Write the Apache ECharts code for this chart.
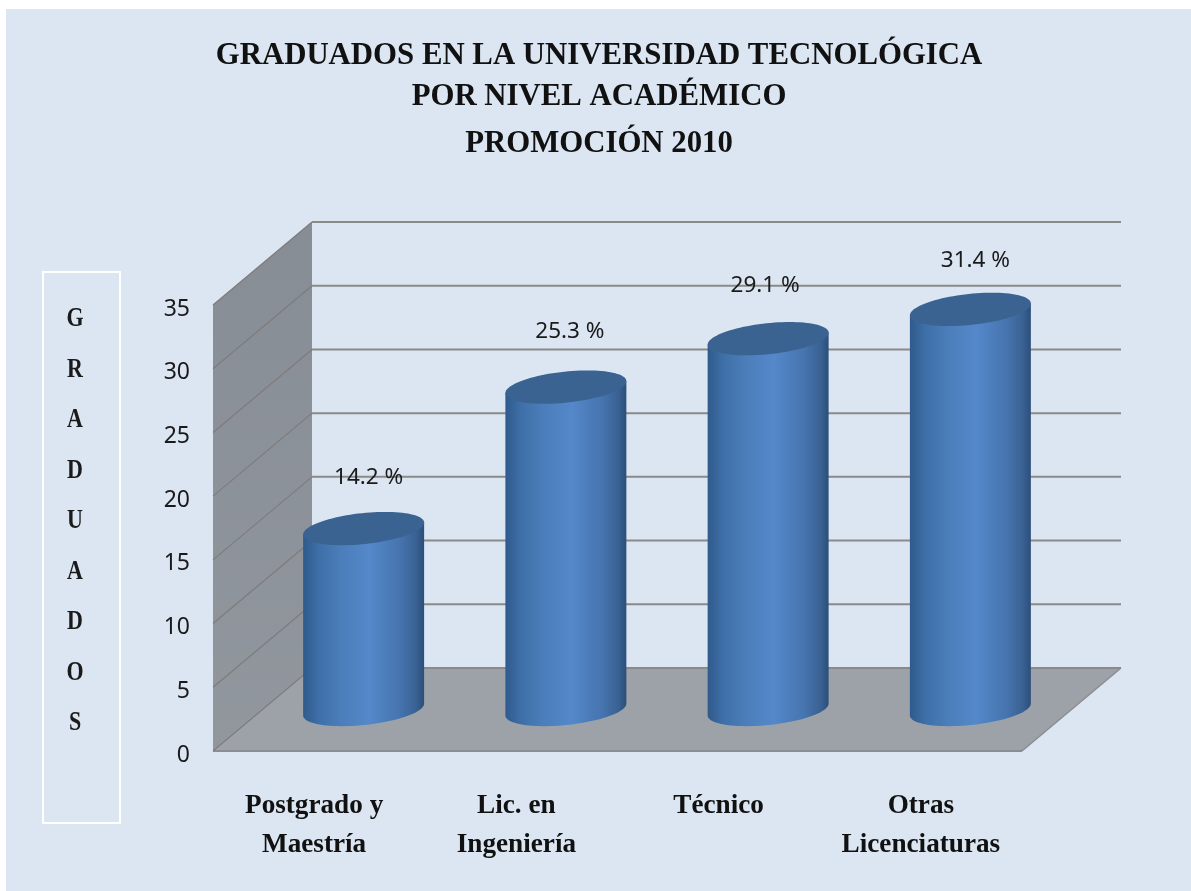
<!DOCTYPE html>
<html><head><meta charset="utf-8">
<style>html,body{margin:0;padding:0;background:#fff}#c{width:1191px;height:891px}</style>
<script src="https://cdn.jsdelivr.net/npm/echarts@6/dist/echarts.min.js"></script>
</head><body><div id="c"></div>
<script>
const titleLines = ['GRADUADOS EN LA UNIVERSIDAD TECNOLÓGICA', 'POR NIVEL ACADÉMICO', 'PROMOCIÓN 2010'];
const categories = ['Postgrado y\nMaestría', 'Lic. en\nIngeniería', 'Técnico', 'Otras\nLicenciaturas'];
const percentages = [14.2, 25.3, 29.1, 31.4];
const axisTicks = [0, 5, 10, 15, 20, 25, 30, 35];
const axisTitle = 'GRADUADOS';

const DX = 99, DY = -83;            // depth of the 3D box
const GRID = {left: 213, top: 305, width: 809, height: 446};
const SERIF = '"Liberation Serif", serif';
const SANS = '"Noto Sans", sans-serif';
const labelShift = [[5, -51], [4, -56], [-3, -53], [5, -49]];

function wallItem(params, api) {
  const v = api.value(0);
  const [x0, y0] = api.coord([0, v]);
  const xL = GRID.left, xR = GRID.left + GRID.width;
  const children = [];
  if (v === axisTicks[0]) {
    const top = api.coord([0, axisTicks[axisTicks.length - 1]])[1];
    children.push({type: 'polygon', shape: {points: [[xL, y0], [xL, top], [xL + DX, top + DY], [xL + DX, y0 + DY]]},
      style: {fill: {type: 'linear', x: 0, y: 0, x2: 0, y2: 1, colorStops: [{offset: 0, color: '#878d95'}, {offset: 1, color: '#92979e'}]}}});
    children.push({type: 'polygon', shape: {points: [[xL, y0], [xR, y0], [xR + DX, y0 + DY], [xL + DX, y0 + DY]]},
      style: {fill: '#9da2a9'}});
    children.push({type: 'line', shape: {x1: xL, y1: y0, x2: xR, y2: y0}, style: {stroke: '#8b8d91', lineWidth: 2}});
    children.push({type: 'line', shape: {x1: xR, y1: y0, x2: xR + DX, y2: y0 + DY}, style: {stroke: '#8b8d91', lineWidth: 1.5}});
  }
  children.push({type: 'line', shape: {x1: xL, y1: y0, x2: xL + DX, y2: y0 + DY}, style: {stroke: '#7f7b7c', lineWidth: 1.2}});
  children.push({type: 'line', shape: {x1: xL + DX, y1: y0 + DY, x2: xR + DX, y2: y0 + DY}, style: {stroke: '#8a8a8a', lineWidth: 2}});
  return {type: 'group', children};
}

function ellipsePoint(cx, cy, a, b, th, t) {
  return [cx + a * Math.cos(t) * Math.cos(th) + b * Math.sin(t) * Math.sin(th),
          cy - a * Math.cos(t) * Math.sin(th) + b * Math.sin(t) * Math.cos(th)];
}

function cylinderItem(params, api) {
  const i = api.value(0), v = api.value(1);
  const top = api.coord([i, v]), base = api.coord([i, 0]);
  const cx = top[0] + DX / 2, yT = top[1] + DY / 2, yB = base[1] + DY / 2;
  const a = 60.8, b = 15.5, th = 6 * Math.PI / 180;
  const tx = Math.atan2(b * Math.sin(th), a * Math.cos(th));
  const N = 48, body = [], cap = [];
  for (let k = 0; k <= N; k++) body.push(ellipsePoint(cx, yB, a, b, th, tx + Math.PI * (1 - k / N)));
  body.push(ellipsePoint(cx, yT, a, b, th, tx));
  body.push(ellipsePoint(cx, yT, a, b, th, tx + Math.PI));
  for (let k = 0; k < 2 * N; k++) cap.push(ellipsePoint(cx, yT, a, b, th, Math.PI * k / N));
  const sh = labelShift[i];
  return {type: 'group', children: [
    {type: 'polygon', shape: {points: body}, style: {fill: {type: 'linear', x: 0, y: 0, x2: 1, y2: 0, colorStops: [
      {offset: 0, color: '#2f5a8c'}, {offset: 0.12, color: '#3e6ea6'}, {offset: 0.3, color: '#4a7db9'},
      {offset: 0.55, color: '#5488ca'}, {offset: 0.8, color: '#4674ae'}, {offset: 0.93, color: '#3a6294'}, {offset: 1, color: '#2c4f7a'}]}}},
    {type: 'polygon', shape: {points: cap}, style: {fill: '#3b6391'}},
    {type: 'text', style: {x: cx + sh[0], y: yT + sh[1], text: v + ' %', fill: '#1a1a1a', font: '22.5px ' + SANS, align: 'center', verticalAlign: 'middle'}}
  ]};
}

const chart = echarts.init(document.getElementById('c'), null, {renderer: 'canvas'});
chart.setOption({
  animation: false,
  title: titleLines.map((t, i) => ({
    text: t, left: 594, top: [51, 92, 139][i], textAlign: 'center', textVerticalAlign: 'middle',
    textStyle: {fontFamily: SERIF, fontWeight: 'bold', fontSize: 30.8, color: '#111'}
  })),
  graphic: [
    {type: 'rect', z: -10, silent: true, shape: {x: 6, y: 9, width: 1185, height: 882}, style: {fill: '#dce6f2'}},
    {type: 'rect', z: 1, silent: true, shape: {x: 43, y: 272, width: 77, height: 551}, style: {fill: 'none', stroke: '#fff', lineWidth: 2}},
    {type: 'text', z: 2, silent: true, x: 75, y: 521, scaleY: 1.25, style: {x: 0, y: 0, text: axisTitle.split('').join('\n'), align: 'center', verticalAlign: 'middle', lineHeight: 40.4,
      font: 'bold 22px ' + SERIF, fill: '#1a1a1a'}}
  ],
  grid: {left: GRID.left, top: GRID.top, width: GRID.width, height: GRID.height, containLabel: false},
  xAxis: {type: 'category', data: categories, axisLine: {show: false}, axisTick: {show: false}, splitLine: {show: false},
    axisLabel: {fontFamily: SERIF, fontWeight: 'bold', fontSize: 27.2, color: '#111', lineHeight: 39, margin: 35, interval: 0}},
  yAxis: {type: 'value', min: axisTicks[0], max: axisTicks[axisTicks.length - 1], interval: 5,
    axisLine: {show: false}, axisTick: {show: false}, splitLine: {show: false},
    axisLabel: {fontFamily: SANS, fontSize: 23, color: '#1a1a1a', margin: 23, verticalAlign: 'top', lineHeight: 8}},
  series: [
    {type: 'custom', name: 'box', coordinateSystem: 'cartesian2d', clip: false, z: 1, silent: true,
      encode: {x: 1, y: 0}, data: axisTicks.map(v => [v, 0]), renderItem: wallItem},
    {type: 'custom', name: 'Graduados', coordinateSystem: 'cartesian2d', clip: false, z: 3, silent: true,
      encode: {x: 0, y: 1}, data: percentages.map((v, i) => [i, v]), renderItem: cylinderItem}
  ]
});
</script></body></html>
